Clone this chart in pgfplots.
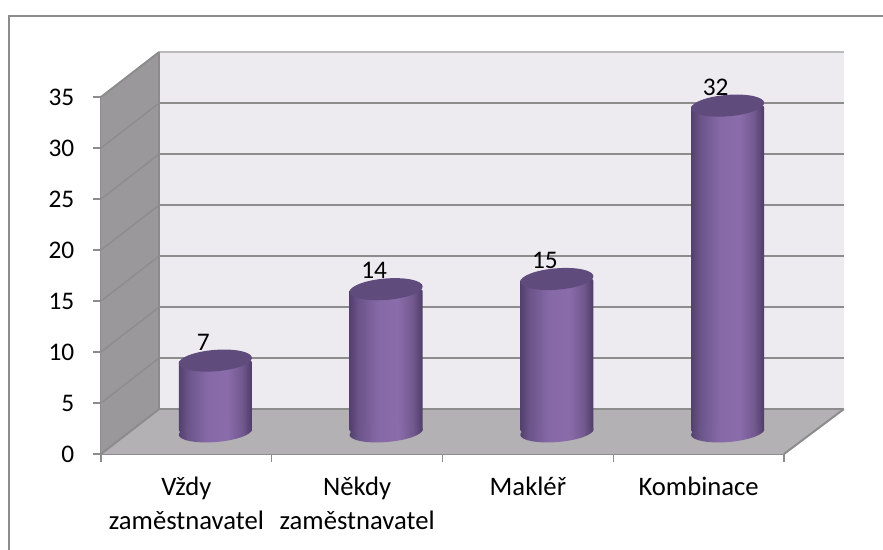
\documentclass[border=0pt]{standalone}
\usepackage{pgfplots}
\pgfplotsset{compat=1.18}
\usepackage{fontspec}
\setmainfont{Carlito}
% 1 px of the reference = 0.75pt here
\definecolor{wallc}{HTML}{EDEBF0}
\definecolor{sidec}{HTML}{9A989B}
\definecolor{floorc}{HTML}{B3B1B4}
\definecolor{linec}{HTML}{8C8C8C}
\definecolor{topc}{HTML}{604B7D}
\definecolor{cyl0}{HTML}{53406E}
\definecolor{cyl1}{HTML}{6A5488}
\definecolor{cyl2}{HTML}{8568A6}
\definecolor{cyl3}{HTML}{8A6CAB}
\definecolor{cyl4}{HTML}{73598F}
\definecolor{cyl5}{HTML}{4E3C68}
\pgfdeclarehorizontalshading{cylbody}{100bp}{
  color(0bp)=(cyl0);
  color(25bp)=(cyl0);
  color(31bp)=(cyl1);
  color(44bp)=(cyl2);
  color(58bp)=(cyl3);
  color(68bp)=(cyl4);
  color(75bp)=(cyl5);
  color(100bp)=(cyl5)}
\pgfdeclareplotmark{cylbase}{%
  \pgfpathellipse{\pgfpointorigin}{\pgfpoint{27.4pt}{2.2pt}}{\pgfpoint{-0.6pt}{7.5pt}}%
  \pgfshadepath{cylbody}{0}\pgfusepath{discard}}
\pgfdeclareplotmark{cyltop}{%
  \pgfsetfillcolor{topc}%
  \pgfpathellipse{\pgfpointorigin}{\pgfpoint{27.4pt}{2.2pt}}{\pgfpoint{-0.6pt}{8pt}}%
  \pgfusepathqfill}
\pgfplotsset{cyl/.style={ybar,bar width=54.8pt,bar shift=21.75pt,yshift=16.5pt,draw=none,shading=cylbody,rounded corners=1.5pt}}
\begin{document}
\begin{tikzpicture}[x=0.75pt,y=0.75pt]
\useasboundingbox (0,0) rectangle (883,550);
\draw[linec,line width=1.5pt] (8.5,0) -- (8.5,534) -- (883,534);
\begin{axis}[
  at={(75.75pt,72pt)},anchor=south west,
  scale only axis,
  width=512.25pt,height=267.75pt,
  xmin=-0.5,xmax=3.5,ymin=0,ymax=35,
  clip=false,
  axis x line*=bottom,axis y line*=left,
  axis line style={linec,line width=1.5pt,-},
  tick style={linec,line width=1pt},
  tick align=outside,major tick length=6pt,
  xtick={-0.5,0.5,1.5,2.5,3.5},
  x tick label as interval,
  xticklabels={{Vždy\\zaměstnavatel},{Někdy\\zaměstnavatel},{Makléř},{Kombinace}},
  x tick label style={align=center,font=\fontsize{20}{25}\selectfont,yshift=-8pt},
  ytick={0,5,...,35},
  y tick label style={font=\fontsize{19}{24}\selectfont,xshift=-10.5pt},
  /pgf/number format/assume math mode=true,
]
% back wall, side wall, floor
\fill[wallc] (axis cs:-0.16,4.4) rectangle (axis cs:3.85,39.4);
\fill[sidec] (axis cs:-0.5,0) -- (axis cs:-0.16,4.4) -- (axis cs:-0.16,39.4) -- (axis cs:-0.5,35) -- cycle;
\fill[floorc] (axis cs:-0.5,0) -- (axis cs:-0.16,4.4) -- (axis cs:3.85,4.4) -- (axis cs:3.5,0) -- cycle;
\draw[linec!60,line width=1.5pt] (axis cs:-0.16,39.4) -- (axis cs:3.85,39.4);
\pgfplotsinvokeforeach{5,10,...,30}{
  \draw[linec,line width=1.5pt] (axis cs:-0.16,#1+4.4) -- (axis cs:3.85,#1+4.4);
  \draw[linec,line width=1pt] (axis cs:-0.5,#1) -- (axis cs:-0.16,#1+4.4);
}
\draw[linec,line width=1.5pt] (axis cs:-0.16,39.4) -- (axis cs:-0.5,35);
\draw[linec,line width=1.5pt] (axis cs:-0.16,4.4) -- (axis cs:3.85,4.4);
\draw[linec,line width=1pt] (axis cs:-0.16,4.4) -- (axis cs:-0.16,39.4);
\draw[linec,line width=1.5pt] (axis cs:-0.5,0) -- (axis cs:-0.16,4.4);
\draw[linec,line width=1.5pt] (axis cs:3.5,0) -- (axis cs:3.85,4.4);
% cylinders
\addplot[only marks,mark=cylbase,xshift=21.75pt,yshift=16.5pt] coordinates {(0,0) (1,0) (2,0) (3,0)};
\addplot[cyl] coordinates {(0,7)};
\addplot[cyl] coordinates {(1,14)};
\addplot[cyl] coordinates {(2,15)};
\addplot[cyl] coordinates {(3,32)};
\addplot[only marks,mark=cyltop,xshift=21.75pt,yshift=16.5pt,
  nodes near coords,
  every node near coord/.append style={black,anchor=center,xshift=-9pt,yshift=14pt,
    font=\fontsize{19}{24}\selectfont,/pgf/number format/assume math mode=true}]
  coordinates {(0,7) (1,14) (2,15) (3,32)};
\end{axis}
\end{tikzpicture}
\end{document}
